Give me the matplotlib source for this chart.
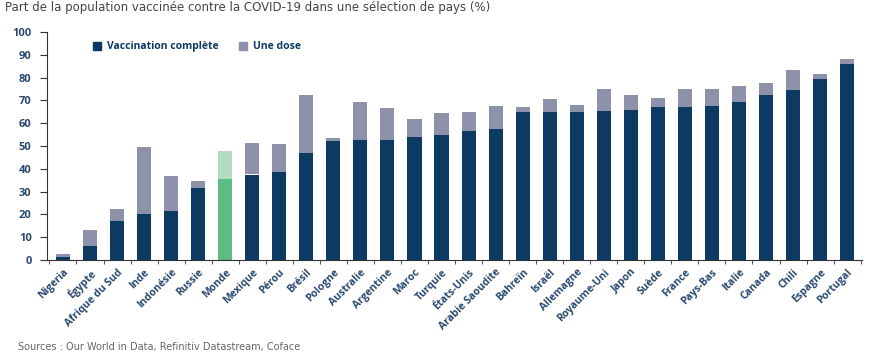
import matplotlib
matplotlib.use("Agg")
import matplotlib.pyplot as plt
from matplotlib.patches import Patch
import numpy as np

countries = ["Nigeria", "Égypte", "Afrique du Sud", "Inde", "Indonésie", "Russie", "Monde",
             "Mexique", "Pérou", "Brésil", "Pologne", "Australie", "Argentine", "Maroc",
             "Turquie", "États-Unis", "Arabie Saoudite", "Bahreïn", "Israël", "Allemagne",
             "Royaume-Uni", "Japon", "Suède", "France", "Pays-Bas", "Italie", "Canada",
             "Chili", "Espagne", "Portugal"]
complete = [1.5, 6, 17, 20, 21.5, 31.5, 35.5, 37.5, 38.5, 47, 52, 52.5, 52.5, 54, 55,
            56.5, 57.5, 65, 65, 65, 65.5, 66, 67, 67, 67.5, 69.5, 72.5, 74.5, 79.5, 86]
total = [2.5, 13, 22.5, 49.5, 37, 34.5, 48, 51.5, 51, 72.5, 53.5, 69.5, 66.5, 62, 64.5,
         65, 67.5, 67, 70.5, 68, 75, 72.5, 71, 75, 75, 76.5, 77.5, 83.5, 81.5, 88]
yticks = list(range(0, 101, 10))

NAVY = "#0d3a63"
GREY = "#8d91aa"
GREEN = "#5bbd84"
LGREEN = "#b3dcc3"
LABEL = "#2a4a70"

plt.rcParams['font.family'] = ['Open Sans', 'DejaVu Sans']

fig = plt.figure(figsize=(8.69, 3.57), dpi=100)
ax = fig.add_axes([47/869, 1-260/357, (862-47)/869, (260-32)/357])

x = np.arange(len(countries))
comp = np.array(complete)
one = np.array(total) - comp
c1 = [GREEN if c == "Monde" else NAVY for c in countries]
c2 = [LGREEN if c == "Monde" else GREY for c in countries]
ax.bar(x, comp, width=0.52, color=c1, zorder=2)
ax.bar(x, one, bottom=comp, width=0.52, color=c2, zorder=2)

ax.set_xlim(-0.59, len(countries) - 1 + 0.55)
ax.set_ylim(0, 100)
ax.set_yticks(yticks)
ax.set_yticklabels([str(v) for v in yticks], fontsize=8, fontweight='bold', color=LABEL)
ax.set_xticks(x)
ax.set_xticklabels(countries, rotation=45, ha='right', rotation_mode='anchor',
                   fontsize=7.5, fontweight='bold', color=LABEL)
ax.tick_params(axis='x', which='major', length=0, pad=5)
ax.set_xticks(np.arange(-0.5, len(countries)), minor=True)
ax.tick_params(axis='x', which='minor', length=3, color='#333333')
ax.tick_params(axis='y', length=5, color='#333333', pad=6)
for s in ['top', 'right']:
    ax.spines[s].set_visible(False)
ax.spines['left'].set_color('#333333')
ax.spines['bottom'].set_color('#333333')

handles = [Patch(color=NAVY, label="Vaccination complète"), Patch(color=GREY, label="Une dose")]
leg = ax.legend(handles=handles, loc='upper left', bbox_to_anchor=(0.045, 1.0), ncol=2,
                frameon=False, handlelength=0.8, handleheight=0.8, columnspacing=2.0,
                handletextpad=0.5, prop={'size': 7.5, 'weight': 'bold'})
for t in leg.get_texts():
    t.set_color(NAVY)

fig.text(5/869, 1-8/357, "Part de la population vaccinée contre la COVID-19 dans une sélection de pays (%)",
         fontsize=8.5, color='#444444', va='center', ha='left', family='DejaVu Sans')
fig.text(18/869, 1-347/357, "Sources : Our World in Data, Refinitiv Datastream, Coface",
         fontsize=7, color='#666666', va='center', ha='left', family='DejaVu Sans')

fig.savefig("out.png", dpi=100)
